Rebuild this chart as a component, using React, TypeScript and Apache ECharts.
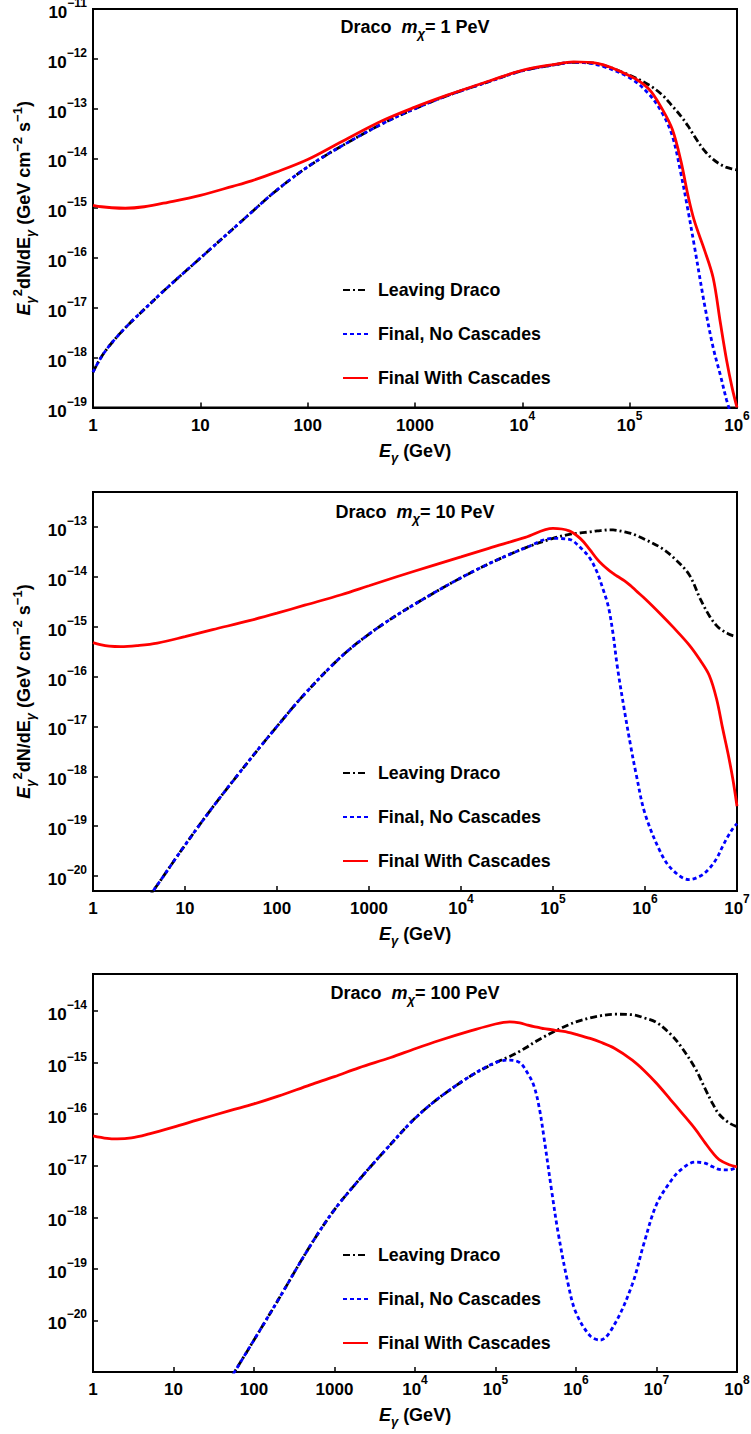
import React, { useEffect, useRef } from "react";
import * as echarts from "echarts";

// ---------- data ----------
// Energies in GeV; flux arrays hold log10 of E^2 dN/dE in GeV cm^-2 s^-1 (null = outside plot)
const p1Energy = [1, 1.2, 1.5, 2, 3, 5, 10, 20, 30, 50, 100, 200, 500, 1e3, 2e3, 5e3, 1e4, 2e4, 3e4, 5e4, 1e5, 1.5e5, 2e5, 2.5e5, 3e5, 3.5e5, 4e5, 5e5, 6e5, 7e5, 8e5, 9e5, 1e6];
const p1LeavingLog = [-18.29, -17.98, -17.7, -17.4, -17.03, -16.58, -16.0, -15.42, -15.08, -14.66, -14.17, -13.77, -13.3, -13.0, -12.74, -12.45, -12.24, -12.12, -12.07, -12.1, -12.33, -12.52, -12.72, -12.95, -13.15, -13.35, -13.55, -13.85, -14.02, -14.12, -14.18, -14.21, -14.23];
const p1NoCascLog = [-18.29, -17.98, -17.7, -17.4, -17.03, -16.58, -16.0, -15.42, -15.08, -14.66, -14.17, -13.77, -13.3, -13.0, -12.74, -12.45, -12.24, -12.12, -12.07, -12.12, -12.38, -12.7, -13.08, -13.55, -14.3, -15.05, -15.75, -16.95, -17.8, -18.35, -18.85, -19.2, -19.5];
const p1CascLog = [-14.94, -14.97, -14.99, -15.0, -14.97, -14.88, -14.74, -14.56, -14.45, -14.28, -14.02, -13.68, -13.24, -12.97, -12.73, -12.44, -12.23, -12.11, -12.06, -12.09, -12.34, -12.6, -13.0, -13.42, -14.05, -14.75, -15.25, -15.85, -16.4, -17.3, -18.05, -18.6, -19.0];

const p2Energy = [1, 1.2, 1.5, 2, 3, 5, 10, 20, 50, 100, 200, 500, 1e3, 2e3, 5e3, 1e4, 2e4, 5e4, 1e5, 1.5e5, 2e5, 2.5e5, 3e5, 3.5e5, 4e5, 4.5e5, 5e5, 6e5, 7e5, 8e5, 1e6, 1.5e6, 2e6, 3e6, 4e6, 5e6, 6e6, 7e6, 8e6, 9e6, 1e7];
const p2LeavingLog = [null, null, null, null, -20.75, -20.18, -19.38, -18.62, -17.68, -17.0, -16.35, -15.6, -15.15, -14.77, -14.33, -14.02, -13.74, -13.42, -13.23, -13.15, -13.12, -13.1, -13.08, -13.07, -13.06, -13.06, -13.07, -13.1, -13.13, -13.17, -13.25, -13.42, -13.6, -13.95, -14.45, -14.78, -14.98, -15.08, -15.14, -15.18, -15.2];
const p2NoCascLog = [null, null, null, null, -20.75, -20.18, -19.38, -18.62, -17.68, -17.0, -16.35, -15.6, -15.15, -14.77, -14.33, -14.02, -13.74, -13.42, -13.23, -13.25, -13.42, -13.62, -13.9, -14.25, -14.6, -15.15, -15.8, -16.7, -17.4, -17.95, -18.75, -19.55, -19.88, -20.07, -20.0, -19.85, -19.65, -19.4, -19.2, -19.05, -18.95];
const p2CascLog = [-15.32, -15.36, -15.39, -15.4, -15.38, -15.33, -15.2, -15.06, -14.88, -14.73, -14.57, -14.36, -14.18, -14.0, -13.77, -13.6, -13.43, -13.21, -13.03, -13.08, -13.24, -13.45, -13.64, -13.77, -13.86, -13.93, -13.99, -14.08, -14.18, -14.28, -14.44, -14.76, -15.0, -15.36, -15.68, -15.98, -16.45, -17.05, -17.55, -18.05, -18.6];

const p3Energy = [1, 1.5, 2, 3, 5, 10, 20, 50, 100, 200, 500, 1e3, 2e3, 5e3, 1e4, 2e4, 5e4, 1e5, 1.5e5, 2e5, 2.5e5, 3e5, 3.5e5, 4e5, 5e5, 6e5, 8e5, 1e6, 1.5e6, 2e6, 3e6, 5e6, 7e6, 1e7, 1.5e7, 2e7, 3e7, 4e7, 5e7, 6e7, 8e7, 1e8];
const p3LeavingLog = [null, null, null, null, null, null, null, -21.15, -20.38, -19.6, -18.55, -17.85, -17.28, -16.58, -16.08, -15.68, -15.25, -15.0, -14.88, -14.78, -14.69, -14.61, -14.55, -14.5, -14.42, -14.36, -14.27, -14.21, -14.13, -14.09, -14.06, -14.07, -14.13, -14.22, -14.45, -14.68, -15.1, -15.5, -15.8, -16.0, -16.17, -16.24];
const p3NoCascLog = [null, null, null, null, null, null, null, -21.15, -20.38, -19.6, -18.55, -17.85, -17.28, -16.58, -16.08, -15.68, -15.25, -15.0, -14.95, -15.0, -15.2, -15.45, -15.88, -16.45, -17.5, -18.3, -19.3, -19.85, -20.3, -20.38, -20.08, -19.3, -18.5, -17.75, -17.3, -17.08, -16.93, -16.95, -17.02, -17.07, -17.08, -17.02];
const p3CascLog = [-16.42, -16.47, -16.48, -16.46, -16.38, -16.25, -16.11, -15.93, -15.8, -15.65, -15.43, -15.27, -15.1, -14.9, -14.73, -14.57, -14.38, -14.25, -14.21, -14.23, -14.27, -14.3, -14.32, -14.34, -14.36, -14.38, -14.41, -14.45, -14.53, -14.6, -14.72, -14.95, -15.15, -15.4, -15.72, -15.95, -16.28, -16.55, -16.75, -16.88, -16.98, -17.02];

const seriesNames = ["Leaving Draco", "Final, No Cascades", "Final With Cascades"];
const masses = ["1 PeV", "10 PeV", "100 PeV"];
const xMaxValues = [1e6, 1e7, 1e8];
const yMinExp = [-19, -20.3, -21];
const yMaxExp = [-11, -12.3, -13.28];

// ---------- styling ----------
const FONT = "'Liberation Sans', Arial, Helvetica, sans-serif";
const base = { fontFamily: FONT, fontWeight: "bold", color: "#000" };
const makeRich = (main: number, small: number, lh: number): any => ({
  n: { ...base, fontSize: main, lineHeight: lh, verticalAlign: "middle" },
  i: { ...base, fontSize: main, lineHeight: lh, verticalAlign: "middle", fontStyle: "italic" },
  sub: { ...base, fontSize: small, lineHeight: small, verticalAlign: "bottom" },
  subi: { ...base, fontSize: small, lineHeight: small, verticalAlign: "bottom", fontStyle: "italic" },
  sup: { ...base, fontSize: small, lineHeight: small, verticalAlign: "top" },
});
const titleRich = makeRich(18, 13, 26);
const nameRich = makeRich(18, 13, 26);
const tickRich: any = {
  b: { ...base, fontSize: 17, lineHeight: 24, verticalAlign: "bottom" },
  s: { ...base, fontSize: 12, lineHeight: 12, verticalAlign: "top" },
};
const lineStyles: any[] = [
  { color: "#000000", width: 2.8, type: [7, 3, 2, 3] },
  { color: "#0000ff", width: 2.8, type: [4, 3] },
  { color: "#ff0000", width: 2.8, type: "solid" },
];
const layout = [
  { top: 9, height: 398.5, legendTop: 281, titleTop: 14, showMinY: true, showMaxY: true },
  { top: 492, height: 399, legendTop: 764, titleTop: 499, showMinY: false, showMaxY: false },
  { top: 974, height: 398, legendTop: 1246, titleTop: 980, showMinY: true, showMaxY: false },
];

const panels = [
  { energy: p1Energy, curves: [p1LeavingLog, p1NoCascLog, p1CascLog] },
  { energy: p2Energy, curves: [p2LeavingLog, p2NoCascLog, p2CascLog] },
  { energy: p3Energy, curves: [p3LeavingLog, p3NoCascLog, p3CascLog] },
];

function xFmt(v: number) {
  const e = Math.log10(v);
  const n = Math.round(e);
  if (Math.abs(e - n) > 0.02) return "";
  if (n <= 3) return `{b|${Math.pow(10, n)}}`;
  return `{b|10}{s|${n}}`;
}
function yFmt(v: number) {
  const e = Math.log10(v);
  const n = Math.round(e);
  if (Math.abs(e - n) > 0.02) return "";
  return `{b|10}{s|\u2212${-n}}`;
}

export default function App() {
  const ref = useRef<HTMLDivElement>(null);
  useEffect(() => {
    if (!ref.current) return;
    const chart = echarts.init(ref.current, undefined, { renderer: "svg" });
    const option: any = {
      animation: false,
      aria: { enabled: false },
      textStyle: { fontFamily: FONT },
      title: layout.map((l, i) => ({
        text: `{n|Draco  }{i|m}{subi|\u03c7}{n|= ${masses[i]}}`,
        left: 415,
        top: l.titleTop,
        textAlign: "center",
        padding: 0,
        textStyle: { rich: titleRich, ...base, fontSize: 18 },
      })),
      grid: layout.map((l) => ({
        left: 93,
        right: 14,
        top: l.top,
        height: l.height,
        show: true,
        borderColor: "#000",
        borderWidth: 2,
        backgroundColor: "transparent",
        containLabel: false,
        outerBoundsMode: "none",
      })),
      xAxis: layout.map((l, i) => ({
        type: "log",
        logBase: 10,
        gridIndex: i,
        min: 1,
        max: xMaxValues[i],
        splitNumber: 10,
        name: "{i|E}{subi|\u03b3}{n| (GeV)}",
        nameLocation: "middle",
        nameGap: 30,
        nameTextStyle: { rich: nameRich, color: "#000" },
        axisLine: { show: true, onZero: false, lineStyle: { color: "#000", width: 2 } },
        axisTick: { show: true, inside: true, length: 5, lineStyle: { color: "#000", width: 1.5 } },
        minorTick: { show: false },
        splitLine: { show: false },
        minorSplitLine: { show: false },
        axisLabel: { margin: 2, formatter: xFmt, rich: tickRich, color: "#000" },
      })),
      yAxis: layout.map((l, i) => ({
        type: "log",
        logBase: 10,
        gridIndex: i,
        min: Math.pow(10, yMinExp[i]),
        max: Math.pow(10, yMaxExp[i]),
        splitNumber: 10,
        name: "{i|E}{subi|\u03b3}{sup|2}{n|dN/dE}{subi|\u03b3}{n| (GeV cm}{sup|\u22122}{n| s}{sup|\u22121}{n|)}",
        nameLocation: "middle",
        nameRotate: 90,
        nameGap: 52,
        nameTextStyle: { rich: nameRich, color: "#000" },
        axisLine: { show: true, onZero: false, lineStyle: { color: "#000", width: 2 } },
        axisTick: { show: true, inside: true, length: 5, lineStyle: { color: "#000", width: 1.5 } },
        minorTick: { show: false },
        splitLine: { show: false },
        minorSplitLine: { show: false },
        axisLabel: {
          margin: 6,
          formatter: yFmt,
          rich: tickRich,
          color: "#000",
          showMinLabel: l.showMinY,
          showMaxLabel: l.showMaxY,
        },
      })),
      legend: layout.map((l) => ({
        data: seriesNames,
        orient: "vertical",
        left: 342,
        top: l.legendTop,
        itemWidth: 25,
        itemHeight: 14,
        itemGap: 26,
        padding: 0,
        selectedMode: false,
        itemStyle: { opacity: 0 },
        formatter: (name: string) => ` ${name}`,
        textStyle: { ...base, fontSize: 17.8 },
      })),
      series: panels.flatMap((p, i) =>
        p.curves.map((c, j) => ({
          type: "line",
          name: seriesNames[j],
          xAxisIndex: i,
          yAxisIndex: i,
          data: p.energy
            .map((e, k) => (c[k] == null ? null : [e, Math.pow(10, c[k] as number)]))
            .filter((d) => d !== null),
          showSymbol: false,
          symbol: "none",
          smooth: 0.35,
          clip: true,
          silent: true,
          z: 2 + j,
          itemStyle: { color: lineStyles[j].color },
          lineStyle: lineStyles[j],
        }))
      ),
    };
    chart.setOption(option);
    return () => chart.dispose();
  }, []);
  return (
    <div
      ref={ref}
      style={{ position: "absolute", left: 0, top: 0, width: 751, height: 1434, background: "#fff" }}
    />
  );
}
